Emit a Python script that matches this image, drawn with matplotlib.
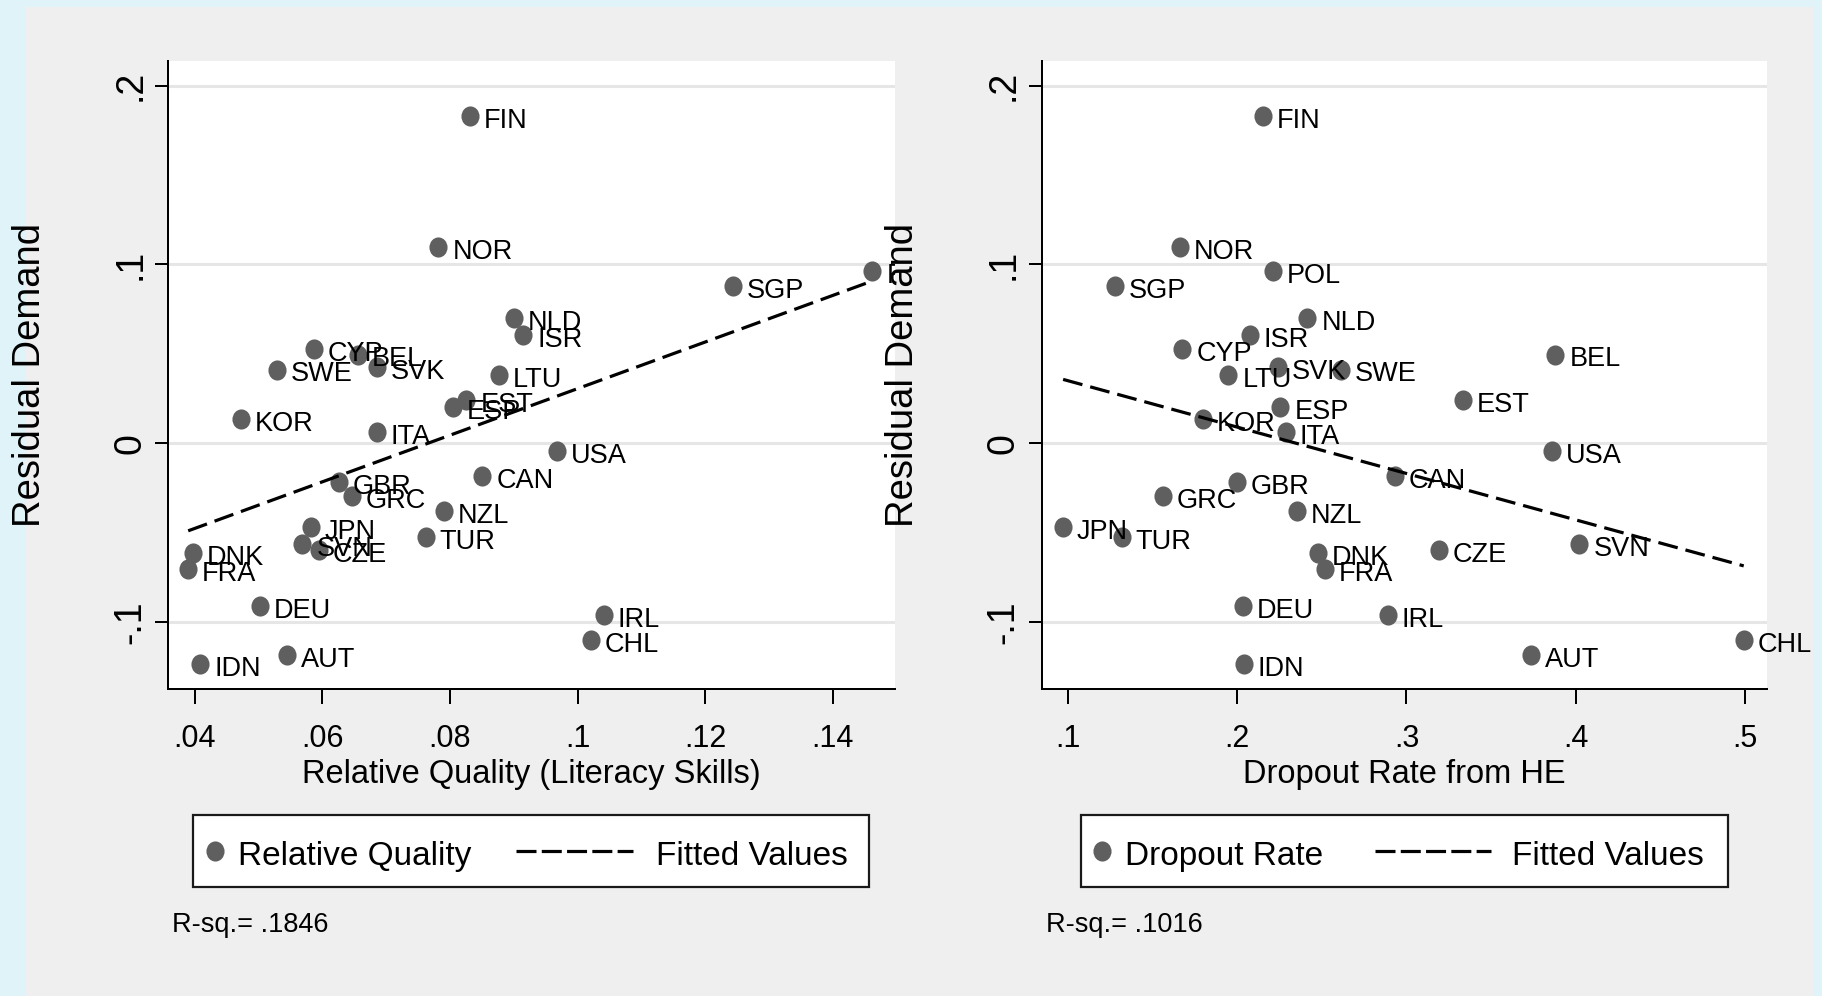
import numpy as np
import matplotlib
matplotlib.use("Agg")
import matplotlib.pyplot as plt
from matplotlib.path import Path
from matplotlib.transforms import Affine2D
from matplotlib.lines import Line2D
from matplotlib.patches import Rectangle

plt.rcParams["font.family"] = ["Liberation Sans", "DejaVu Sans"]
plt.rcParams["lines.scale_dashes"] = False

# data
countries = ["FIN", "NOR", "SGP", "POL", "NLD", "ISR", "CYP", "BEL", "SVK", "SWE",
             "LTU", "EST", "ESP", "KOR", "ITA", "USA", "CAN", "GBR", "GRC", "NZL",
             "TUR", "JPN", "SVN", "CZE", "DNK", "FRA", "DEU", "IRL", "CHL", "AUT", "IDN"]
residual = [0.183, 0.110, 0.088, 0.0963, 0.070, 0.0607, 0.0527, 0.0496, 0.0428, 0.0412,
            0.0381, 0.024, 0.020, 0.0136, 0.0061, -0.0043, -0.0184, -0.0216, -0.0296, -0.038,
            -0.0523, -0.0471, -0.0566, -0.060, -0.0612, -0.0706, -0.0911, -0.096, -0.110, -0.1186, -0.1236]
quality = [0.0831, 0.0782, 0.1244, 0.1462, 0.0901, 0.0915, 0.0587, 0.0656, 0.0686, 0.0529,
           0.0877, 0.0826, 0.0805, 0.0473, 0.0686, 0.0968, 0.0851, 0.0626, 0.0647, 0.0791,
           0.0762, 0.0582, 0.0569, 0.0595, 0.0398, 0.0390, 0.0502, 0.1041, 0.1021, 0.0545, 0.0409]
dropout = [0.2153, 0.1662, 0.1277, 0.2214, 0.2415, 0.2075, 0.1677, 0.3879, 0.2241, 0.2611,
           0.1949, 0.3334, 0.2256, 0.1798, 0.2289, 0.3861, 0.2933, 0.2000, 0.1563, 0.2352,
           0.1319, 0.0973, 0.4021, 0.3192, 0.2475, 0.2518, 0.2033, 0.2891, 0.4991, 0.3737, 0.2039]

yticks = [-0.1, 0, 0.1, 0.2]
ytick_labels = ["-.1", "0", ".1", ".2"]
q_ticks = [0.04, 0.06, 0.08, 0.10, 0.12, 0.14]
q_tick_labels = [".04", ".06", ".08", ".1", ".12", ".14"]
d_ticks = [0.1, 0.2, 0.3, 0.4, 0.5]
d_tick_labels = [".1", ".2", ".3", ".4", ".5"]
rsq = [".1846", ".1016"]

W, H = 1822, 996
DOT = "#5f5f5f"
dot = Path.unit_circle().transformed(Affine2D().scale(0.9, 1.0))


def fx(px):
    return px / W


def fy(py):
    return 1 - py / H


fig = plt.figure(figsize=(W / 100, H / 100), dpi=100, facecolor="#dff3f8")
fig.patches.append(Rectangle((fx(26), 0), fx(1813) - fx(26), fy(7), transform=fig.transFigure,
                             facecolor="#efefef", edgecolor="none", zorder=-5))

ax1 = fig.add_axes([fx(168.4), fy(689.3), fx(894.7) - fx(168.4), (689.3 - 60.7) / H])
ax2 = fig.add_axes([fx(1041.6), fy(689.3), fx(1766.6) - fx(1041.6), (689.3 - 60.7) / H])


def panel(ax, x, xlim, xticks, xticklabels, xlabel, clip):
    ax.set_facecolor("white")
    for v in yticks:
        ax.axhline(v, color="#e6e6e6", lw=2.2, zorder=0)
    ax.plot(x, residual, ls="none", marker=dot, ms=14.5, color=DOT, mew=0, zorder=2)
    for name, xi, yi in zip(countries, x, residual):
        ax.annotate(name, (xi, yi), xytext=(10.0, -8.6), textcoords="offset points",
                    fontsize=19.5, ha="left", va="baseline", clip_on=clip, zorder=3)
    b, a = np.polyfit(x, residual, 1)
    xs = np.array([min(x), max(x)])
    ax.plot(xs, a + b * xs, color="black", lw=2.3, ls=(0, (14.4, 5.8)), zorder=4)

    ax.set_xlim(*xlim)
    ax.set_ylim(-0.1377, 0.214)
    ax.set_xticks(xticks)
    ax.set_xticklabels(xticklabels)
    ax.set_yticks(yticks)
    ax.set_yticklabels(ytick_labels, rotation=90, va="center", ha="right")
    for s in ["top", "right"]:
        ax.spines[s].set_visible(False)
    for s in ["left", "bottom"]:
        ax.spines[s].set_linewidth(1.44)
    ax.tick_params(axis="y", length=9.4, width=1.44, pad=5, labelsize=27)
    ax.tick_params(axis="x", length=10.8, width=1.44, pad=14, labelsize=22)
    ax.set_xlabel(xlabel, fontsize=23.5, labelpad=3.6)
    ax.set_ylabel("Residual Demand", fontsize=27.5)
    ax.yaxis.set_label_coords(-0.166, 0.5)


panel(ax1, quality, (0.0359, 0.1497), q_ticks, q_tick_labels,
      "Relative Quality (Literacy Skills)", True)
panel(ax2, dropout, (0.0846, 0.5126), d_ticks, d_tick_labels,
      "Dropout Rate from HE", False)


def legend(x0, x1, dot_x, txt1_x, txt1, dash0, dash1, txt2_x, note_x, note):
    fig.patches.append(Rectangle((fx(x0), fy(886.7)), fx(x1) - fx(x0), (886.7 - 815) / H,
                                 transform=fig.transFigure, facecolor="white",
                                 edgecolor="#1a1a1a", lw=1.6, zorder=1))
    fig.lines.append(Line2D([fx(dot_x)], [fy(851)], marker=dot, ms=14.5, color=DOT, mew=0,
                            ls="none", transform=fig.transFigure, zorder=2))
    fig.lines.append(Line2D([fx(dash0), fx(dash1)], [fy(851), fy(851)], color="black", lw=2.3,
                            ls=(0, (14.4, 3.8)), transform=fig.transFigure, zorder=2))
    fig.text(fx(txt1_x), fy(864.5), txt1, fontsize=24, va="baseline", zorder=3)
    fig.text(fx(txt2_x), fy(864.5), "Fitted Values", fontsize=24, va="baseline", zorder=3)
    fig.text(fx(note_x), fy(932), "R-sq.= " + note, fontsize=19.5, va="baseline", zorder=3)


legend(192.7, 869.3, 214.6, 238, "Relative Quality", 515.5, 633.3, 655.5, 172.5, rsq[0])
legend(1080.7, 1727.9, 1101.6, 1125, "Dropout Rate", 1374.6, 1490.8, 1512, 1046, rsq[1])

fig.savefig("out.png", dpi=100, facecolor=fig.get_facecolor())
